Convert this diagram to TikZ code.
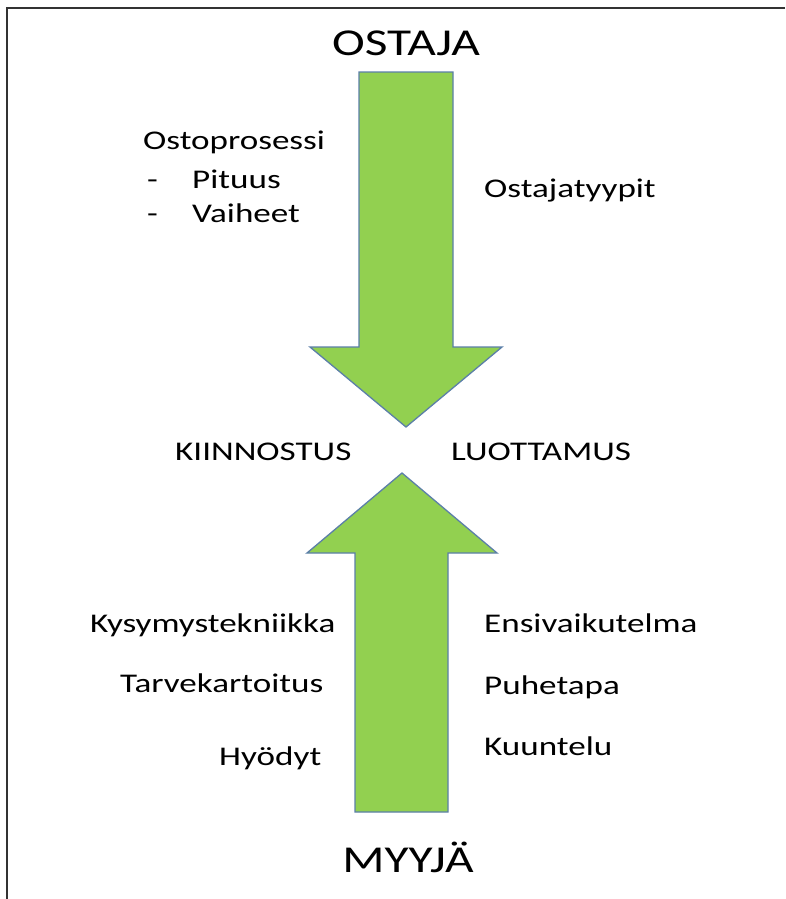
\documentclass[tikz,border=0pt]{standalone}
\usepackage{fontspec}
\setmainfont{Carlito}[FakeStretch=1.3]
\definecolor{arrowgreen}{HTML}{92D050}
\definecolor{arrowedge}{HTML}{5B7FA8}
\begin{document}
\begin{tikzpicture}[x=1pt,y=-1pt,
  lbl/.style={anchor=base west,inner sep=0pt,font=\fontsize{27}{30}\selectfont},
  ttl/.style={anchor=base,inner sep=0pt,font=\fontsize{38}{42}\selectfont},
  bigarrow/.style={fill=arrowgreen,draw=arrowedge,line width=1.3pt,line join=miter}]
\useasboundingbox (0,0) rectangle (785,899);
\fill[white] (0,0) rectangle (785,899);
% frame (top and left edges only)
\draw[line width=2.2pt,black!80] (785,8) -- (7,8) -- (7,899);
% down arrow
\draw[bigarrow] (359,72) -- (453,72) -- (453,347) -- (502,347) -- (406,427)
  -- (310,347) -- (359,347) -- cycle;
% up arrow
\draw[bigarrow] (355,812) -- (448,812) -- (448,553) -- (497,553) -- (402,473)
  -- (307,553) -- (355,553) -- cycle;
% titles
\node[ttl] (ostaja) at (406,56) {OSTAJA};
\node[ttl] (myyja) at (408,872) {MYYJÄ};
% upper texts
\node[lbl] (osto) at (143,149) {Ostoprosessi};
\node[lbl] (d1) at (147,188) {-};
\node[lbl] (pituus) at (192,188) {Pituus};
\node[lbl] (d2) at (147,222) {-};
\node[lbl] (vaiheet) at (192,222) {Vaiheet};
\node[lbl] (tyypit) at (484,197) {Ostajatyypit};
% middle
\node[lbl] (kiin) at (175,460) {KIINNOSTUS};
\node[lbl] (luot) at (451,460) {LUOTTAMUS};
% lower left
\node[lbl] (kysy) at (90,632) {Kysymystekniikka};
\node[lbl] (tarve) at (120,692) {Tarvekartoitus};
\node[lbl] (hyod) at (219,765) {Hyödyt};
% lower right
\node[lbl] (ensi) at (484,632) {Ensivaikutelma};
\node[lbl] (puhe) at (484,694) {Puhetapa};
\node[lbl] (kuun) at (484,755) {Kuuntelu};
\end{tikzpicture}
\end{document}
